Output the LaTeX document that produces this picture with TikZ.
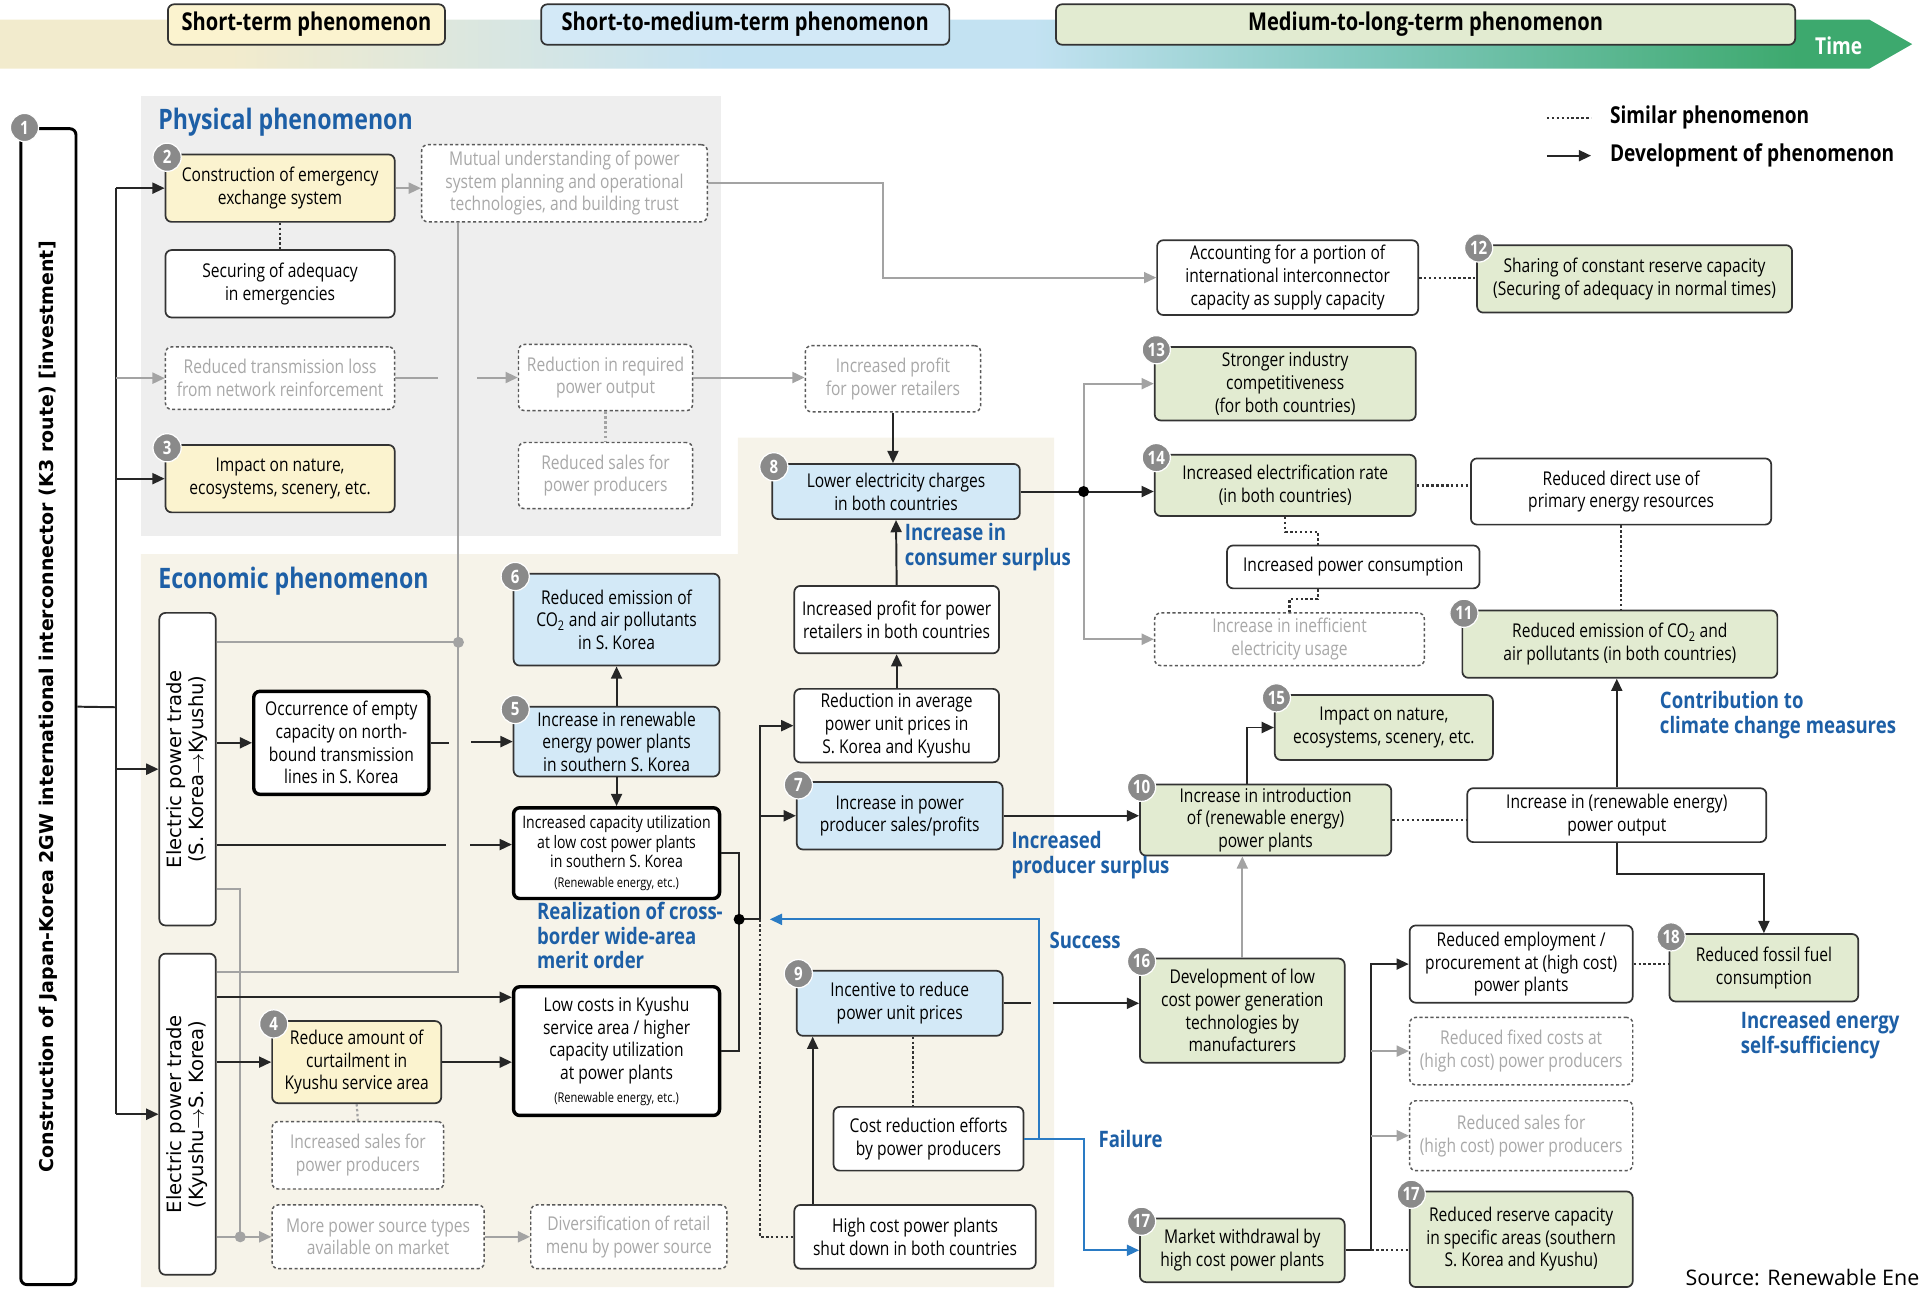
\documentclass[tikz,border=0pt]{standalone}
\usepackage{fontspec}
\setmainfont{Open Sans}[FakeStretch=0.82]
\newfontfamily\widefont{Open Sans}
\newfontfamily\vfont{DejaVu Sans}
\usetikzlibrary{arrows.meta}
\definecolor{yelF}{HTML}{FBF3CF}
\definecolor{bluF}{HTML}{D3E9F7}
\definecolor{grnF}{HTML}{E2EBD1}
\definecolor{physBg}{HTML}{EEEEEE}
\definecolor{econBg}{HTML}{F6F3E9}
\definecolor{headBlue}{HTML}{1D5FA6}
\definecolor{lineGray}{HTML}{A3A3A3}
\definecolor{txtGray}{HTML}{A8A8A8}
\definecolor{linkBlue}{HTML}{2A7BC4}
\definecolor{badgeGray}{HTML}{8A8A8A}
\definecolor{barL}{HTML}{F2EBCD}
\definecolor{barM}{HTML}{C3E2F2}
\definecolor{barT}{HTML}{7FC8BC}
\definecolor{barR}{HTML}{3DA96E}
\pgfdeclarehorizontalshading{timebar}{100bp}{color(0bp)=(barL); color(31bp)=(barL);
 color(44bp)=(barM); color(52bp)=(barM); color(61bp)=(barT); color(72bp)=(barR); color(100bp)=(barR)}
\newcommand{\smallnote}{\fontsize{11}{12}\selectfont}
\begin{document}
\begin{tikzpicture}[x=1pt,y=-1pt,
 box/.style={draw=black!80, line width=1.4pt, rounded corners=5pt, align=center, inner sep=1pt, font=\fontsize{15.5}{18.5}\selectfont},
 heavy/.style={box, draw=black, line width=2.8pt},
 ghost/.style={box, draw=black!65, line width=1.2pt, dash pattern=on 2.5pt off 2pt, text=txtGray},
 sz/.style 2 args={minimum width=#1, minimum height=#2},
 badge/.style={circle, fill=badgeGray, draw=white, line width=1pt, text=white, inner sep=0pt, minimum size=23, font=\bfseries\fontsize{15}{15}\selectfont},
 phase/.style={draw=black!80, line width=1.4pt, rounded corners=5pt, minimum height=33, font=\bfseries\fontsize{20}{21}\selectfont},
 secthead/.style={text=headBlue, font=\bfseries\fontsize{23}{25}\selectfont, inner sep=0pt, anchor=west},
 lbl/.style={text=headBlue, font=\bfseries\fontsize{18.5}{20}\selectfont, align=left, inner sep=0pt},
 ln/.style={line width=1.6pt, draw=black!85},
 arr/.style={ln, -{Triangle[length=10pt,width=9pt]}},
 gln/.style={line width=1.6pt, draw=lineGray},
 garr/.style={gln, -{Triangle[length=10pt,width=9pt]}},
 barr/.style={line width=1.6pt, draw=linkBlue, -{Triangle[length=10pt,width=9pt]}},
 sim/.style={line width=1.8pt, draw=black!80, dash pattern=on 2pt off 2pt},
 gsim/.style={sim, draw=lineGray}]
\useasboundingbox (0,0) rectangle (1568,1052);
% time bar
\shade[shading=timebar]
 (0,16) -- (1525,16) -- (1560,36) -- (1525,56) -- (0,56) -- cycle;
\node[phase, fill=yelF, minimum width=226] (tagS) at (250,20) {Short-term phenomenon};
\node[phase, fill=bluF, minimum width=333] (tagSM) at (608,20) {Short-to-medium-term phenomenon};
\node[phase, fill=grnF, minimum width=603] (tagML) at (1163,20) {Medium-to-long-term phenomenon};
\node[text=white, font=\bfseries\fontsize{19}{20}\selectfont] (time) at (1500,37) {Time};
% legend
\node[anchor=west, font=\bfseries\fontsize{19}{20}\selectfont] (legS) at (1310,96) {Similar phenomenon};
\node[anchor=west, font=\bfseries\fontsize{19}{20}\selectfont] (legD) at (1310,127) {Development of phenomenon};
\draw[sim] ([xshift=-48pt]legS.west) -- ([xshift=-12pt]legS.west);
\draw[arr] ([xshift=-48pt]legD.west) -- ([xshift=-12pt]legD.west);
% panels
\fill[physBg] (115,78) rectangle (588,437);
\fill[econBg] (115,452) -- (602,452) -- (602,357) -- (860,357) -- (860,1050) -- (115,1050) -- cycle;
\node[secthead] (hphys) at (129,100) {Physical phenomenon};
\node[secthead] (hecon) at (129,474) {Economic phenomenon};
% investment (rotated: south is the right side)
\node[box, draw=black, line width=2.4pt, rotate=90, sz={943}{45}, font=\vfont\bfseries\fontsize{15.5}{18}\selectfont] (n1) at (39.5,576.5) {Construction of Japan-Korea 2GW international interconnector (K3 route) [investment]};
% physical
\node[box, fill=yelF, sz={187}{55}] (n2) at (228.5,153.5) {Construction of emergency\\exchange system};
\node[box, fill=white, sz={187}{55}] (nsec) at (228.5,231.5) {Securing of adequacy\\in emergencies};
\node[ghost, fill=white, sz={233}{63}] (nmut) at (460.5,149.5) {Mutual understanding of power\\system planning and operational\\technologies, and building trust};
\node[ghost, fill=white, sz={187}{51}] (nloss) at (228.5,308.5) {Reduced transmission loss\\from network reinforcement};
\node[box, fill=yelF, sz={187}{55}] (n3) at (228.5,390.5) {Impact on nature,\\ecosystems, scenery, etc.};
\node[ghost, fill=white, sz={142}{54}] (nreq) at (494,308) {Reduction in required\\power output};
\node[ghost, fill=white, sz={142}{54}] (nrsales) at (494,388) {Reduced sales for\\power producers};
\node[ghost, fill=white, sz={143}{54}] (nretail) at (728.5,309) {Increased profit\\for power retailers};
% economic
\node[box, fill=bluF, sz={202}{45}] (n8) at (731,401) {Lower electricity charges\\in both countries};
\node[box, fill=white, sz={167}{55}] (nprofit) at (731.5,505.5) {Increased profit for power\\retailers in both countries};
\node[box, fill=white, sz={167}{60}] (navg) at (731.5,592) {Reduction in average\\power unit prices in\\S. Korea and Kyushu};
\node[box, fill=bluF, sz={168}{55}] (n7) at (734,665.5) {Increase in power\\producer sales/profits};
\node[box, fill=bluF, sz={168}{75}] (n6) at (503,505.5) {Reduced emission of\\CO\textsubscript{2} and air pollutants\\in S. Korea};
\node[box, fill=bluF, sz={168}{57}] (n5) at (503,605) {Increase in renewable\\energy power plants\\in southern S. Korea};
\node[heavy, fill=white, sz={168}{74}, font=\fontsize{14}{16}\selectfont] (ncap) at (503,696) {Increased capacity utilization\\at low cost power plants\\in southern S. Korea\\{\smallnote (Renewable energy, etc.)}};
\node[heavy, fill=white, sz={168}{105}] (nlow) at (503,857.5) {Low costs in Kyushu\\service area / higher\\capacity utilization\\at power plants\\{\smallnote (Renewable energy, etc.)}};
\node[box, fill=white, rotate=90, sz={255}{46}, font=\vfont\fontsize{16}{18}\selectfont] (net1) at (153,627.5) {Electric power trade\\(S. Korea$\rightarrow$Kyushu)};
\node[box, fill=white, rotate=90, sz={262}{46}, font=\vfont\fontsize{16}{18}\selectfont] (net2) at (153,909) {Electric power trade\\(Kyushu$\rightarrow$S. Korea)};
\node[heavy, fill=white, sz={143}{84}] (nempty) at (278.5,606) {Occurrence of empty\\capacity on north-\\bound transmission\\lines in S. Korea};
\node[box, fill=yelF, sz={138}{67}] (n4) at (291,866.5) {Reduce amount of\\curtailment in\\Kyushu service area};
\node[ghost, fill=white, sz={140}{55}] (nisales) at (292,942.5) {Increased sales for\\power producers};
\node[ghost, fill=white, sz={173}{52}] (nmore) at (308.5,1009) {More power source types\\available on market};
\node[ghost, fill=white, sz={160}{52}] (ndiv) at (513,1009) {Diversification of retail\\menu by power source};
\node[box, fill=bluF, sz={168}{53}] (n9) at (734,818.5) {Incentive to reduce\\power unit prices};
\node[box, fill=white, sz={155}{52}] (ncost) at (757.5,929) {Cost reduction efforts\\by power producers};
\node[box, fill=white, sz={197}{52}] (nhigh) at (746.5,1009) {High cost power plants\\shut down in both countries};
% medium to long term
\node[box, fill=grnF, sz={167}{85}] (n16) at (1013.5,824.5) {Development of low\\cost power generation\\technologies by\\manufacturers};
\node[box, fill=grnF, sz={167}{52}] (n17) at (1013.5,1020) {Market withdrawal by\\high cost power plants};
\node[box, fill=white, sz={182}{63}] (nemp) at (1241,786.5) {Reduced employment /\\procurement at (high cost)\\power plants};
\node[ghost, fill=white, sz={182}{55}] (nfix) at (1241,857.5) {Reduced fixed costs at\\(high cost) power producers};
\node[ghost, fill=white, sz={182}{57}] (nhsales) at (1241,926.5) {Reduced sales for\\(high cost) power producers};
\node[box, fill=grnF, sz={182}{78}] (n17b) at (1241,1011) {Reduced reserve capacity\\in specific areas (southern\\S. Korea and Kyushu)};
\node[box, fill=grnF, sz={154}{55}] (n18) at (1439,789.5) {Reduced fossil fuel\\consumption};
\node[box, fill=grnF, sz={205}{58}] (n10) at (1032.5,669) {Increase in introduction\\of (renewable energy)\\power plants};
\node[box, fill=grnF, sz={178}{53}] (n15) at (1129,593.5) {Impact on nature,\\ecosystems, scenery, etc.};
\node[box, fill=white, sz={244}{44}] (nout) at (1319,665) {Increase in (renewable energy)\\power output};
\node[box, fill=grnF, sz={257}{55}] (n11) at (1321.5,525.5) {Reduced emission of CO\textsubscript{2} and\\air pollutants (in both countries)};
\node[box, fill=white, sz={245}{54}] (ndirect) at (1322.5,401) {Reduced direct use of\\primary energy resources};
\node[box, fill=grnF, sz={213}{50}] (n14) at (1048.5,396) {Increased electrification rate\\(in both countries)};
\node[box, fill=white, sz={206}{35}] (ncons) at (1104,462.5) {Increased power consumption};
\node[ghost, fill=white, sz={220}{43}] (nineff) at (1052,521.5) {Increase in inefficient\\electricity usage};
\node[box, fill=grnF, sz={213}{60}] (n13) at (1048.5,313) {Stronger industry\\competitiveness\\(for both countries)};
\node[box, fill=white, sz={213}{61}] (nacc) at (1050.5,226.5) {Accounting for a portion of\\international interconnector\\capacity as supply capacity};
\node[box, fill=grnF, sz={257}{55}] (n12) at (1333.5,227.5) {Sharing of constant reserve capacity\\(Securing of adequacy in normal times)};
% badges
\node[badge] (b1) at (20,104) {1};
\node[badge] (b2) at ([shift={(2,3)}]n2.north west) {2};
\node[badge] (b3) at ([shift={(2,3)}]n3.north west) {3};
\node[badge] (b4) at ([shift={(2,3)}]n4.north west) {4};
\node[badge] (b5) at ([shift={(2,3)}]n5.north west) {5};
\node[badge] (b6) at ([shift={(2,3)}]n6.north west) {6};
\node[badge] (b7) at ([shift={(2,3)}]n7.north west) {7};
\node[badge] (b8) at ([shift={(2,3)}]n8.north west) {8};
\node[badge] (b9) at ([shift={(2,3)}]n9.north west) {9};
\node[badge] (b10) at ([shift={(2,3)}]n10.north west) {10};
\node[badge] (b11) at ([shift={(2,3)}]n11.north west) {11};
\node[badge] (b12) at ([shift={(2,3)}]n12.north west) {12};
\node[badge] (b13) at ([shift={(2,3)}]n13.north west) {13};
\node[badge] (b14) at ([shift={(2,3)}]n14.north west) {14};
\node[badge] (b15) at ([shift={(2,3)}]n15.north west) {15};
\node[badge] (b16) at ([shift={(2,3)}]n16.north west) {16};
\node[badge] (b17) at ([shift={(2,3)}]n17.north west) {17};
\node[badge] (b17b) at ([shift={(2,3)}]n17b.north west) {17};
\node[badge] (b18) at ([shift={(2,3)}]n18.north west) {18};
% trunk from the interconnector
\coordinate (trunk) at (95,577);
\draw[ln] (n1.south) -- (trunk);
\draw[ln] (trunk |- n2.west) -- (trunk |- net2.north);
\draw[arr] (trunk |- n2.west) -- (n2.west);
\draw[arr] (trunk |- n3.west) -- (n3.west);
\draw[arr] (trunk |- net1.north) -- (net1.north);
\draw[arr] (trunk |- net2.north) -- (net2.north);
\draw[garr] (trunk |- nloss.west) -- (nloss.west);
% physical links
\draw[garr] (n2.east) -- (n2.east -| nmut.west);
\draw[sim] (n2.south) -- (nsec.north);
\draw[garr] (nmut.east) -- ++(143,0) |- (nacc.west);
\draw[gln] (nloss.east) -- ++(35,0);
\draw[garr] ([xshift=-33pt]nreq.west) -- (nreq.west);
\draw[garr] (nreq.east) -- (nreq.east -| nretail.west);
\draw[gsim] (nreq.south) -- (nrsales.north);
\draw[arr] (nretail.south) -- (nretail.south |- n8.north);
% grey side lines
\coordinate (gtop) at ([xshift=-86.5pt]nmut.south);
\coordinate (gmid) at (374,524);
\coordinate (gbot) at (374,793);
\draw[gln] (gtop) -- (gbot) -- (gbot -| net2.south);
\draw[gln] (gmid -| net1.south) -- (gmid);
\fill[lineGray] (gmid) circle (4.5);
\coordinate (gdot) at (196,1009);
\draw[gln] ([yshift=-97.5pt]net1.south) -| (gdot);
\draw[gln] (gdot -| net2.south) -- (gdot);
\fill[lineGray] (gdot) circle (4.5);
\draw[garr] (gdot) -- (nmore.west);
\draw[garr] (nmore.east) -- (ndiv.west);
% economic links
\draw[arr] (net1.south |- nempty.west) -- (nempty.west);
\draw[ln] (nempty.east) -- ++(15,0);
\draw[arr] ([xshift=-34pt]n5.west) -- (n5.west);
\coordinate (capin) at ([yshift=7pt]ncap.west);
\draw[ln] (capin -| net1.south) -- ([xshift=-54pt]capin);
\draw[arr] ([xshift=-34pt]capin) -- (capin);
\coordinate (lowin) at ([yshift=-10pt]nlow.north west);
\draw[arr] (lowin -| net2.south) -- (lowin);
\draw[arr] (n4.west -| net2.south) -- (n4.west);
\draw[arr] (n4.east) -- (n4.east -| nlow.west);
\draw[gsim] (n4.south) -- (nisales.north);
\draw[arr] (n5.north) -- (n6.south);
\draw[arr] (n5.south) -- (ncap.north);
% merit order
\coordinate (merit) at (603,750);
\coordinate (fork) at (620,750);
\draw[sim] (fork) |- (nhigh.west);
\draw[ln] (ncap.east) -| (merit);
\draw[ln] (nlow.east) -| (merit);
\draw[ln] (merit) -- (fork);
\draw[arr] (fork) |- (navg.west);
\draw[arr] (fork) |- (n7.west);
\fill (merit) circle (4.5);
\draw[arr] (navg.north) -- (nprofit.south);
\draw[arr] (nprofit.north) -- (n8.south);
% charges and onwards
\coordinate (hub) at (884,401);
\draw[garr] (hub) |- (n13.west);
\draw[garr] (hub) |- (nineff.west);
\draw[arr] (n8.east) -- (n8.east -| n14.west);
\fill (hub) circle (4.5);
\draw[arr] (n7.east) -- (n7.east -| n10.west);
\draw[arr] ([xshift=-15.5pt]n10.north) |- (n15.west);
\draw[sim] (n10.east) -- (n10.east -| nout.west);
\draw[arr] (nout.north) -- (nout.north |- n11.south);
\draw[arr] (nout.south) -- ++(0,25) -| (n18.north);
\draw[sim] (ndirect.south) -- (ndirect.south |- n11.north);
\draw[sim] (n14.east) -- (n14.east -| ndirect.west);
\draw[sim] (n14.south) -- ++(0,12) -| ([xshift=-29pt]ncons.north);
\draw[sim] ([xshift=-29pt]ncons.south) -- ++(0,8) -| (nineff.north);
\draw[sim] (nacc.east) -- (nacc.east -| n12.west);
% price incentive
\draw[ln] (n9.east) -- ++(22,0);
\draw[arr] ([xshift=40pt]n9.east) -- (n9.east -| n16.west);
\coordinate (hup) at ([xshift=-83.5pt]nhigh.north);
\draw[arr] (hup) -- (hup |- n9.south);
\coordinate (c9) at ([xshift=11pt]n9.south);
\draw[sim] (c9) -- (c9 |- ncost.north);
\draw[barr] (ncost.east) -| (848,750) -- ([xshift=8pt]fork);
\draw[barr] (ncost.east) -- ++(49,0) |- (n17.west);
\draw[garr] (n16.north) -- (n16.north |- n10.south);
\coordinate (fan) at ([xshift=21pt]n17.east);
\draw[arr] (n17.east) -- (fan) |- (nemp.west);
\draw[garr] (fan |- nfix.west) -- (nfix.west);
\draw[garr] (fan |- nhsales.west) -- (nhsales.west);
\draw[sim] (fan) -- (fan -| n17b.west);
\draw[sim] (nemp.east) -- (nemp.east -| n18.west);
% blue notes
\node[lbl, anchor=north west] (lcons) at (738,427) {Increase in\\consumer surplus};
\node[lbl, anchor=north west] (lprod) at (825,678) {Increased\\producer surplus};
\node[lbl, anchor=north west] (lmerit) at (438,736) {Realization of cross-\\border wide-area\\merit order};
\node[lbl, anchor=west] (lsucc) at (856,767) {Success};
\node[lbl, anchor=west] (lfail) at (896,929) {Failure};
\node[lbl, anchor=north west] (lclim) at (1354,564) {Contribution to\\climate change measures};
\node[lbl, anchor=north west] (lself) at (1420,825) {Increased energy\\self-sufficiency};
\node[anchor=west, inner sep=0pt, font=\widefont\fontsize{17.5}{19}\selectfont] (src) at (1375,1042) {Source: Renewable Ene};
\end{tikzpicture}
\end{document}
